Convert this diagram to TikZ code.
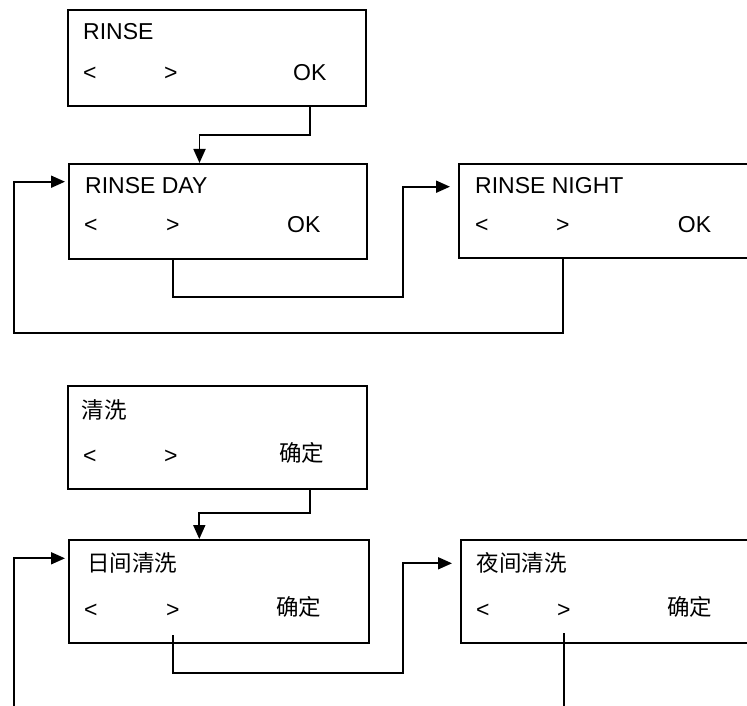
\documentclass[tikz,border=0pt]{standalone}
\usepackage{fontspec}
\setmainfont{Liberation Sans}
\newfontfamily\cjk{Noto Sans CJK SC}
\usetikzlibrary{arrows.meta,calc}
\begin{document}
\begin{tikzpicture}[x=1pt,y=-1pt,
  box/.style={draw, line width=1.6pt, anchor=north west, inner sep=0pt},
  lbl/.style={anchor=base west, inner sep=0pt, font=\fontsize{23}{23}\selectfont},
  clbl/.style={anchor=base west, inner sep=0pt, font=\fontsize{22.5}{22.5}\selectfont\cjk},
  conn/.style={draw, line width=1.8pt, -{Triangle[length=14pt,width=12pt]}}]
\useasboundingbox (0,0) rectangle (747,706);
\clip (0,0) rectangle (747,706);
% ---------- top (English) ----------
\node[box, minimum width=298pt, minimum height=96pt] (bA) at (67,9) {};
\node[box, minimum width=298pt, minimum height=95pt] (bB) at (68,163) {};
\node[box, minimum width=310pt, minimum height=94pt] (bC) at (458,163) {};
\node[lbl] (tA) at (83,39.3) {RINSE};
\node[lbl] (lA) at (83,80.5) {<};
\node[lbl] (gA) at (164,80.5) {>};
\node[lbl] (oA) at (293,80.5) {OK};
\node[lbl] (tB) at (85,193.3) {RINSE DAY};
\node[lbl] (lB) at (84,232.7) {<};
\node[lbl] (gB) at (166,232.7) {>};
\node[lbl] (oB) at (287,232.7) {OK};
\node[lbl] (tC) at (475,193.3) {RINSE NIGHT};
\node[lbl] (lC) at (475,232.7) {<};
\node[lbl] (gC) at (556,232.7) {>};
\node[lbl] (oC) at (677.7,232.7) {OK};
% connectors top
\coordinate (k1) at (199.5,135);
\draw[conn] (oA |- bA.south) |- (k1) -- (k1 |- bB.north);
\coordinate (k2) at (402.7,296.7);
\coordinate (k2b) at (402.7,186.7);
\draw[conn, shorten >=8pt] (gB |- bB.south) |- (k2) -- (k2b) -- (k2b -| bC.west);
\coordinate (k3) at (14,333);
\coordinate (k3b) at (14,181.7);
\draw[conn, shorten >=3pt] (gC |- bC.south) |- (k3) -- (k3b) -- (k3b -| bB.west);
% ---------- bottom (Chinese) ----------
\node[box, minimum width=299pt, minimum height=103pt] (bD) at (67,385) {};
\node[box, minimum width=300pt, minimum height=103pt] (bE) at (68,539) {};
\node[box, minimum width=310pt, minimum height=103pt] (bF) at (460,539) {};
\node[clbl] (tD) at (81.7,418) {清洗};
\node[lbl] (lD) at (83,463) {<};
\node[lbl] (gD) at (164,463) {>};
\node[clbl] (oD) at (279,461) {确定};
\node[clbl] (tE) at (87,571) {日间清洗};
\node[lbl] (lE) at (84,617) {<};
\node[lbl] (gE) at (166,617) {>};
\node[clbl] (oE) at (276,615) {确定};
\node[clbl] (tF) at (476.7,571) {夜间清洗};
\node[lbl] (lF) at (476,617) {<};
\node[lbl] (gF) at (557,617) {>};
\node[clbl] (oF) at (667,615) {确定};
% connectors bottom
\coordinate (s4) at (310,0);
\coordinate (k4) at (199.3,512.7);
\draw[conn] (s4 |- bD.south) |- (k4) -- (k4 |- bE.north);
\path (gE.base) ++(0,18) coordinate (s5);
\coordinate (k5) at (402.7,673.3);
\coordinate (k5b) at (402.7,563.3);
\draw[conn, shorten >=8pt] (s5) |- (k5) -- (k5b) -- (k5b -| bF.west);
\path (gF.base) ++(0,16) coordinate (s6);
\coordinate (k6) at (14,730);
\coordinate (k6b) at (14,558.3);
\draw[conn, shorten >=3pt] (s6) |- (k6) -- (k6b) -- (k6b -| bE.west);
\end{tikzpicture}
\end{document}
